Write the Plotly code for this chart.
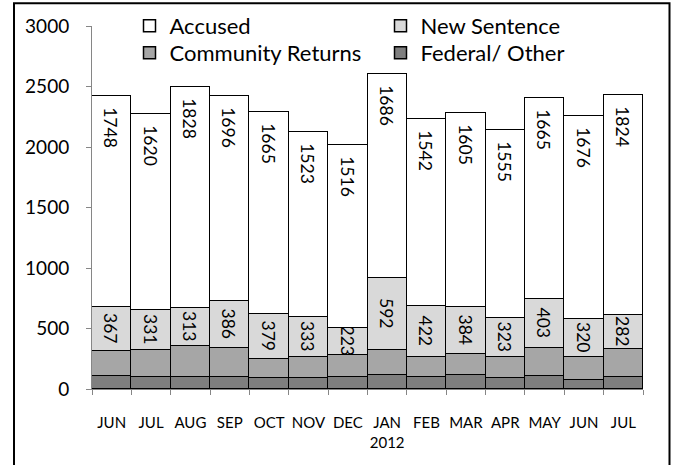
import plotly.graph_objects as go

months = ["JUN", "JUL", "AUG", "SEP", "OCT", "NOV", "DEC", "JAN", "FEB", "MAR", "APR", "MAY", "JUN", "JUL"]
years = ["2011"] * 7 + ["2012"] * 7
tick_labels = ["JUN", "JUL", "AUG", "SEP", "OCT", "NOV", "DEC", "JAN<br>2012", "FEB", "MAR", "APR", "MAY", "JUN", "JUL"]

federal_other = [104, 100, 100, 100, 91, 91, 100, 115, 101, 118, 91, 110, 77, 100]
community_returns = [206, 222, 257, 241, 153, 173, 180, 207, 163, 173, 173, 228, 184, 227]
new_sentence = [367, 331, 313, 386, 379, 333, 223, 592, 422, 384, 323, 403, 320, 282]
accused = [1748, 1620, 1828, 1696, 1665, 1523, 1516, 1686, 1542, 1605, 1555, 1665, 1676, 1824]

keys = [f"{m} {y}" for m, y in zip(months, years)]

FONT = "Lato"
line = dict(color="black", width=1.5)
LABEL_SIZE = 17.5

fig = go.Figure()
fig.add_trace(go.Bar(x=keys, y=federal_other, name="Federal/ Other", legend="legend2",
                     marker=dict(color="#7f7f7f", line=line), legendrank=2))
fig.add_trace(go.Bar(x=keys, y=community_returns, name="Community Returns", legend="legend2",
                     marker=dict(color="#a6a6a6", line=line), legendrank=1))
fig.add_trace(go.Bar(x=keys, y=new_sentence, name="New Sentence", legend="legend",
                     marker=dict(color="#d9d9d9", line=line), legendrank=2,
                     text=new_sentence, texttemplate="%{text}", textposition="inside",
                     insidetextanchor="middle", textangle=90, constraintext="none",
                     textfont=dict(family=FONT, size=LABEL_SIZE, color="black")))
fig.add_trace(go.Bar(x=keys, y=accused, name="Accused", legend="legend",
                     marker=dict(color="white", line=line), legendrank=1,
                     text=accused, texttemplate="\u00a0\u00a0%{text}", textposition="inside",
                     insidetextanchor="end", textangle=90, constraintext="none",
                     textfont=dict(family=FONT, size=LABEL_SIZE, color="black")))

L, R = 92, 643
T, B = 26, 389
W, H = 675, 465
pw = R - L
ph = B - T

leg_common = dict(orientation="h", traceorder="normal",
                  x=(149.5 - 20 - L) / pw, xanchor="left", yanchor="middle",
                  entrywidth=206, entrywidthmode="pixels",
                  font=dict(family=FONT, size=22), bgcolor="rgba(0,0,0,0)",
                  itemclick=False)

fig.update_layout(
    width=W, height=H,
    margin=dict(l=L, r=W - R, t=T, b=H - B, autoexpand=False),
    barmode="stack", bargap=0,
    plot_bgcolor="white", paper_bgcolor="white",
    font=dict(family=FONT, color="black"),
    showlegend=True,
    legend=dict(leg_common, y=(B - 26) / ph),
    legend2=dict(leg_common, y=(B - 53) / ph),
    xaxis=dict(type="category", tickmode="array", tickvals=keys, ticktext=tick_labels,
               tickson="boundaries", ticks="outside", ticklen=5, tickcolor="#868686",
               showline=True, linecolor="#868686", linewidth=1, showgrid=False,
               tickangle=0, tickfont=dict(family=FONT, size=15), ticklabelstandoff=20),
    yaxis=dict(range=[0, 3000], tickvals=[0, 500, 1000, 1500, 2000, 2500, 3000],
               ticks="outside", ticklen=5, tickcolor="#868686",
               showline=True, linecolor="#868686", linewidth=1, showgrid=False,
               zeroline=False, tickfont=dict(family=FONT, size=19), ticklabelstandoff=13),
    shapes=[dict(type="rect", xref="paper", yref="paper",
                 x0=(14 - L) / pw, x1=(669.5 - L) / pw,
                 y0=(B - 480) / ph, y1=(B - 3.3) / ph,
                 line=dict(color="black", width=2), fillcolor="rgba(0,0,0,0)", layer="above")],
)

fig.write_html("out.html", config={"displayModeBar": False},
               post_script="document.body.style.margin='0';document.body.style.overflow='hidden';")
